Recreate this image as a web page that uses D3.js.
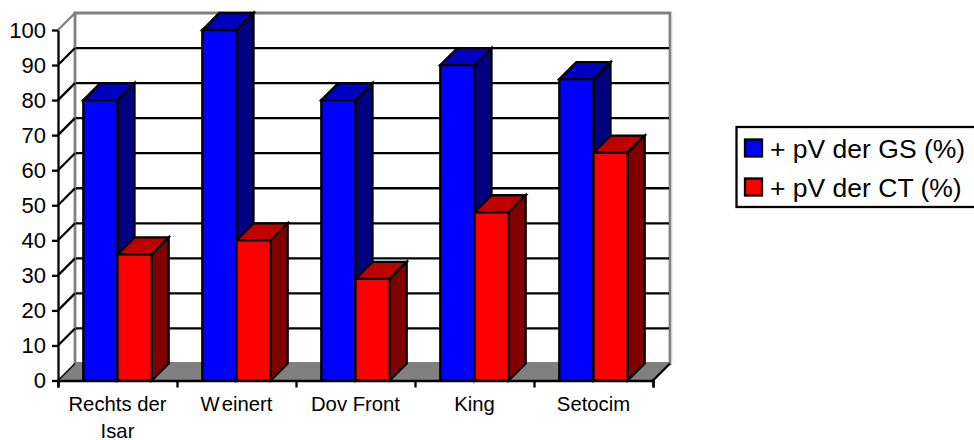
<!DOCTYPE html>
<html>
<head>
<meta charset="utf-8">
<script src="https://cdn.jsdelivr.net/npm/d3@7"></script>
<style>
  html, body { margin: 0; padding: 0; background: #fff; overflow: hidden; }
  text { font-family: "Liberation Sans", Arial, sans-serif; fill: #000; }
</style>
</head>
<body>
<script>
var categories = ["Rechts der Isar", "Weinert", "Dov Front", "King", "Setocim"];
var seriesNames = ["+ pV der GS (%)", "+ pV der CT (%)"];
var gsValues = [80, 100, 80, 90, 86];
var ctValues = [36, 40, 29, 48, 65];
var yTicks = [0, 10, 20, 30, 40, 50, 60, 70, 80, 90, 100];

var frontColors = ["#0000ff", "#ff0000"];
var topColors = ["#0000c0", "#c00000"];
var sideColors = ["#000080", "#800000"];

var width = 974, height = 440;
var depth = 17;  // 3d offset of the back wall
var left = 58, right = 653, top_ = 30, bottom = 380.5;
var lineW = 2.3;

var svg = d3.select("body").append("svg")
  .attr("width", width)
  .attr("height", height)
  .style("display", "block");

var x = d3.scaleBand().domain(d3.range(categories.length)).range([left, right]);
var xSeries = d3.scaleBand().domain([0, 1]).range([0, x.bandwidth()]).paddingOuter(0.74).paddingInner(0);
var y = d3.scaleLinear().domain([0, 100]).range([bottom, top_]);

function poly(points, fill, stroke, sw) {
  return svg.append("polygon")
    .attr("points", points.map(function (p) { return p.join(","); }).join(" "))
    .attr("fill", fill)
    .attr("stroke", stroke)
    .attr("stroke-width", sw)
    .attr("stroke-linejoin", "miter");
}

// back wall
var wallL = left + depth, wallR = right + depth;
poly([[wallL, y(0) - depth], [wallL, y(100) - depth], [wallR, y(100) - depth], [wallR, y(0) - depth]], "#fff", "#808080", 2.8);
svg.append("line")
  .attr("x1", wallR + 1.8).attr("x2", wallR + 1.8)
  .attr("y1", y(100) - depth).attr("y2", y(0) - depth)
  .attr("stroke", "#d8d8d8").attr("stroke-width", 1);

// side wall, top edge stays grey
svg.append("line")
  .attr("x1", left).attr("y1", y(100))
  .attr("x2", wallL).attr("y2", y(100) - depth)
  .attr("stroke", "#808080").attr("stroke-width", lineW);

// gridlines run across the back wall and down the side wall
yTicks.filter(function (t) { return t > 0 && t < 100; }).forEach(function (t) {
  svg.append("line")
    .attr("x1", wallL + 1).attr("x2", wallR - 1)
    .attr("y1", y(t) - depth).attr("y2", y(t) - depth)
    .attr("stroke", "#000").attr("stroke-width", lineW);
  svg.append("line")
    .attr("x1", left).attr("y1", y(t))
    .attr("x2", wallL).attr("y2", y(t) - depth)
    .attr("stroke", "#000").attr("stroke-width", lineW);
});

// floor
poly([[left, y(0)], [wallL, y(0) - depth], [wallR, y(0) - depth], [right, y(0)]], "#808080", "none", 0);
svg.append("line")
  .attr("x1", right).attr("y1", y(0))
  .attr("x2", wallR).attr("y2", y(0) - depth)
  .attr("stroke", "#000").attr("stroke-width", lineW);
svg.append("line")
  .attr("x1", left).attr("y1", y(0))
  .attr("x2", wallL).attr("y2", y(0) - depth)
  .attr("stroke", "#000").attr("stroke-width", 1.5);

// axes
var yAxis = d3.axisLeft(y).tickValues(yTicks).tickSize(6).tickPadding(6).tickSizeOuter(0);
var gy = svg.append("g").attr("transform", "translate(" + left + ",0)").call(yAxis);
gy.selectAll("text").style("font-size", "22px");
gy.selectAll("line, path").attr("stroke", "#000").attr("stroke-width", lineW);

var xAxis = d3.axisBottom(d3.scaleLinear().domain([0, categories.length]).range([left, right]))
  .ticks(categories.length).tickSize(7).tickFormat("");
var gx = svg.append("g").attr("transform", "translate(0," + y(0) + ")").call(xAxis);
gx.selectAll("line, path").attr("stroke", "#000").attr("stroke-width", lineW);

// bars, one category at a time so the red column overlaps the blue side
var rows = [gsValues, ctValues];
categories.forEach(function (c, i) {
  rows.forEach(function (values, s) {
    var x0 = x(i) + xSeries(s), x1 = x0 + xSeries.bandwidth();
    var yt = y(values[i]), yb = y(0);
    poly([[x0, yt], [x0 + depth, yt - depth], [x1 + depth, yt - depth], [x1, yt]], topColors[s], "#000", lineW);
    poly([[x1, yt], [x1 + depth, yt - depth], [x1 + depth, yb - depth], [x1, yb]], sideColors[s], "#000", lineW);
    poly([[x0, yt], [x1, yt], [x1, yb], [x0, yb]], frontColors[s], "#000", lineW);
  });
});

// category labels, long names wrap onto a second line
var labelLines = [["Rechts der", "Isar"], ["Weinert"], ["Dov Front"], ["King"], ["Setocim"]];
labelLines.forEach(function (lines, i) {
  var t = svg.append("text")
    .attr("x", x(i) + x.bandwidth() / 2)
    .attr("y", 411)
    .attr("text-anchor", "middle")
    .style("font-size", "20.3px");
  lines.forEach(function (l, k) {
    t.append("tspan")
      .attr("x", x(i) + x.bandwidth() / 2)
      .attr("dy", k ? 27 : 0)
      .attr("dx", l === "Weinert" ? "0 2.5" : null)
      .text(l);
  });
});

// legend, its box runs off the right edge
svg.append("rect")
  .attr("x", 736.5).attr("y", 127)
  .attr("width", 260).attr("height", 80)
  .attr("fill", "#fff").attr("stroke", "#000").attr("stroke-width", 2.3);
seriesNames.forEach(function (name, s) {
  var ly = 139.5 + s * 39;
  svg.append("rect")
    .attr("x", 745).attr("y", ly)
    .attr("width", 17).attr("height", 17)
    .attr("fill", frontColors[s]).attr("stroke", "#000").attr("stroke-width", 2.3);
  svg.append("text")
    .attr("x", 770).attr("y", ly + 18)
    .style("font-size", "26.5px")
    .text(name);
});
</script>
</body>
</html>
